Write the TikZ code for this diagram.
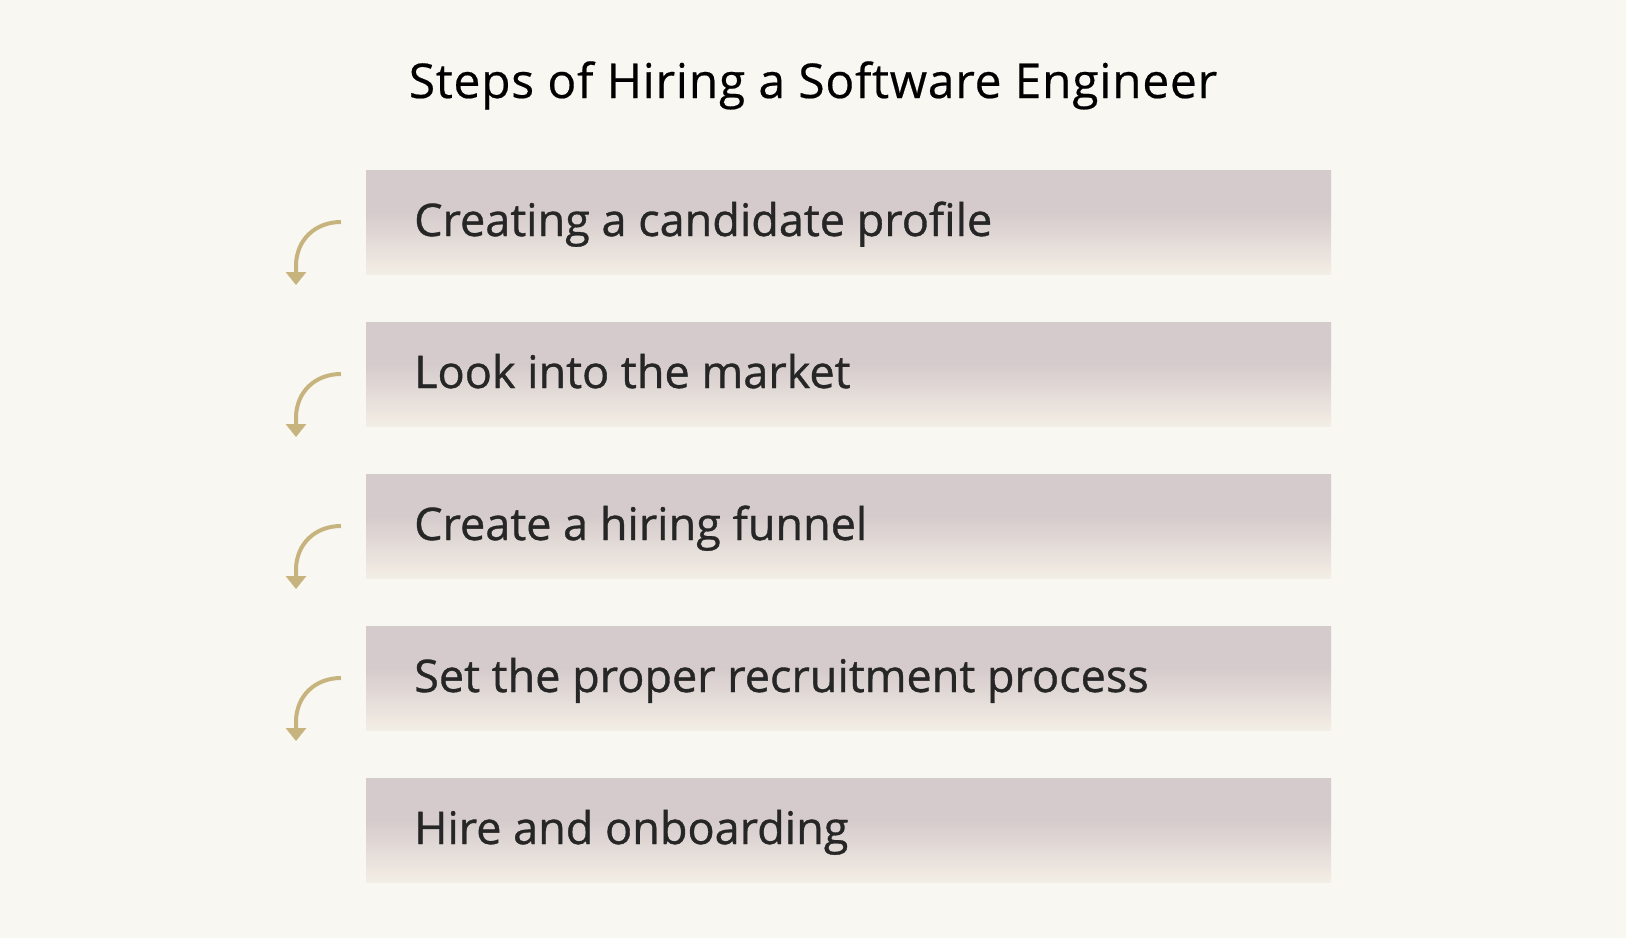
\documentclass[tikz,border=0pt]{standalone}
\usepackage{fontspec}
\setmainfont{Open Sans}
\newfontfamily\stepfont[FakeBold=0.8]{Open Sans}
\newfontfamily\headfont[FakeBold=0.4,LetterSpace=1.5]{Open Sans}
\usetikzlibrary{positioning,arrows.meta}

\definecolor{pagebg}{HTML}{F8F7F2}
\definecolor{boxtop}{HTML}{D5CBCC}
\definecolor{boxbot}{HTML}{F3EEE5}
\definecolor{arrowgold}{HTML}{C7B37E}
\definecolor{steptext}{HTML}{262626}

\pgfdeclareverticalshading{boxfade}{100bp}{color(0bp)=(boxbot); color(25bp)=(boxbot); color(55bp)=(boxtop); color(75bp)=(boxtop); color(100bp)=(boxtop)}

\tikzset{
  stepbox/.style={draw=none, shading=boxfade, minimum width=965pt, minimum height=104pt, inner sep=0pt, anchor=north west},
  steplabel/.style={anchor=base west, inner sep=0pt, text=steptext, font=\stepfont\fontsize{45}{52}\selectfont},
  turn/.style={draw=arrowgold, line width=4pt, -{Triangle[width=20pt,length=13pt]}}
}

\begin{document}
\begin{tikzpicture}[x=1pt,y=-1pt]
                \fill[pagebg] (0,0) rectangle (1626,938);
                \useasboundingbox (0,0) rectangle (1626,938);
                \node (title) [anchor=base, inner sep=0pt, font=\headfont\fontsize{48}{56}\selectfont] at (813,98) {Steps of Hiring a Software Engineer};
                \foreach \i/\txt in {1/Creating a candidate profile, 2/Look into the market, 3/Create a hiring funnel, 4/Set the proper recruitment process, 5/Hire and onboarding} {
                    \node (box\i) [stepbox] at (366, 18+152*\i) {};
                    \node (label\i) [steplabel] at (414, 84+152*\i) {\txt};
                }
                \foreach \i in {1,...,4} {
                    \coordinate (from\i) at (341, 70+152*\i);
                    \coordinate (to\i) at (296, 133+152*\i);
                    \draw [turn] (from\i) .. controls (315, 70+152*\i) and (296, 88+152*\i) .. (296, 114+152*\i) -- (to\i);
                }
            \end{tikzpicture}
\end{document}
